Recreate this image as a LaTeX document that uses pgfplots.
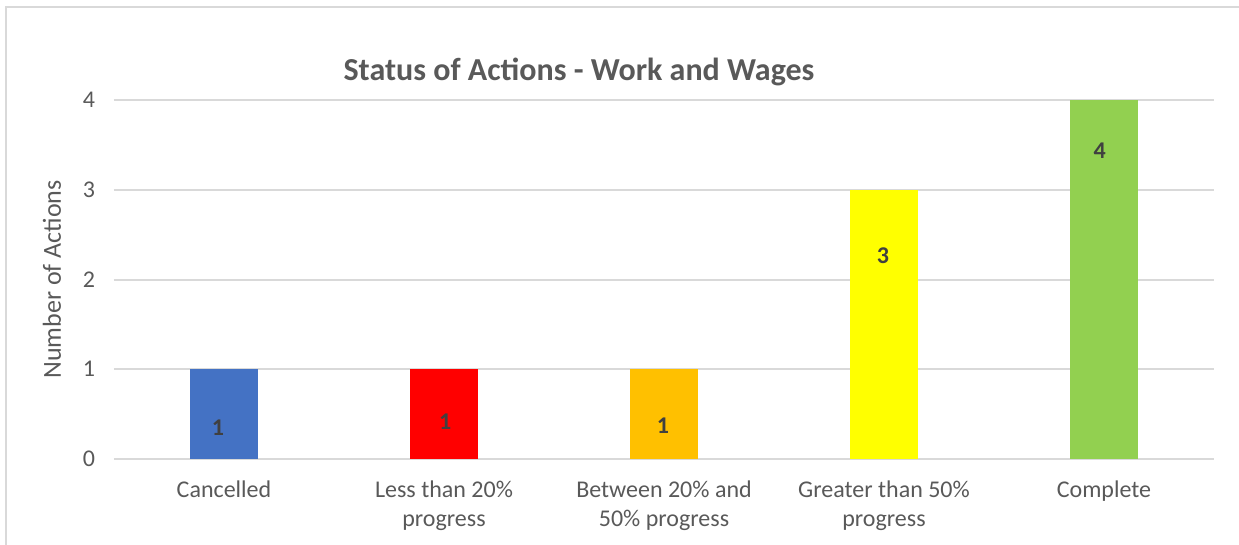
\documentclass[border=0pt]{standalone}
\usepackage{pgfplots}
\pgfplotsset{compat=1.18}
\usepackage{fontspec}
\setmainfont{Carlito}
\definecolor{gridgray}{HTML}{D9D9D9}
\definecolor{txtgray}{HTML}{595959}
\definecolor{lblgray}{HTML}{404040}
\definecolor{cblue}{HTML}{4472C4}
\definecolor{cred}{HTML}{FF0000}
\definecolor{corange}{HTML}{FFC000}
\definecolor{cyellow}{HTML}{FFFF00}
\definecolor{cgreen}{HTML}{92D050}
\begin{document}
\begin{tikzpicture}
\path[use as bounding box] (0pt,0pt) rectangle (619.5pt,-272.5pt);
\draw[gridgray, line width=1.2pt] (3pt,-272.5pt) -- (3pt,-3.5pt) -- (619.5pt,-3.5pt);
\node[font=\fontsize{16}{19}\selectfont\bfseries, text=txtgray] at (289.5pt,-36pt) {Status of Actions - Work and Wages};
\begin{axis}[
  at={(57pt,-229.5pt)}, anchor=south west,
  scale only axis, width=550pt, height=179.5pt,
  xmin=-0.5, xmax=4.5, ymin=0, ymax=4,
  ytick={0,1,2,3,4},
  xtick={0,1,2,3,4},
  xticklabels={Cancelled,{Less than 20\%\\progress},{Between 20\% and\\50\% progress},{Greater than 50\%\\progress},Complete},
  xticklabel style={align=center, font=\fontsize{12}{14.5}\selectfont, text=txtgray, anchor=north, yshift=-7.5pt},
  yticklabel style={font=\fontsize{12}{14}\selectfont, text=txtgray, xshift=-6pt},
  /pgf/number format/assume math mode=true,
  ymajorgrids, grid style={gridgray, line width=1pt},
  axis line style={draw=none},
  major tick length=0pt,
  ylabel={Number of Actions},
  ylabel style={font=\fontsize{13}{15}\selectfont, text=txtgray, at={(axis description cs:-0.0564,0.5)}, anchor=center, rotate=0},
  ybar, bar width=34pt,
  clip=false,
]
\addplot[fill=cblue, draw=none, bar shift=0pt] coordinates {(0,1)};
\addplot[fill=cred, draw=none, bar shift=0pt] coordinates {(1,1)};
\addplot[fill=corange, draw=none, bar shift=0pt] coordinates {(2,1)};
\addplot[fill=cyellow, draw=none, bar shift=0pt] coordinates {(3,3)};
\addplot[fill=cgreen, draw=none, bar shift=0pt] coordinates {(4,4)};
\node[font=\fontsize{12}{14}\selectfont\bfseries, text=lblgray] at (axis cs:-0.027,0.345) {1};
\node[font=\fontsize{12}{14}\selectfont\bfseries, text=lblgray] at (axis cs:1.005,0.41) {1};
\node[font=\fontsize{12}{14}\selectfont\bfseries, text=lblgray] at (axis cs:1.995,0.37) {1};
\node[font=\fontsize{12}{14}\selectfont\bfseries, text=lblgray] at (axis cs:2.995,2.27) {3};
\node[font=\fontsize{12}{14}\selectfont\bfseries, text=lblgray] at (axis cs:3.98,3.44) {4};
\end{axis}
\end{tikzpicture}
\end{document}
